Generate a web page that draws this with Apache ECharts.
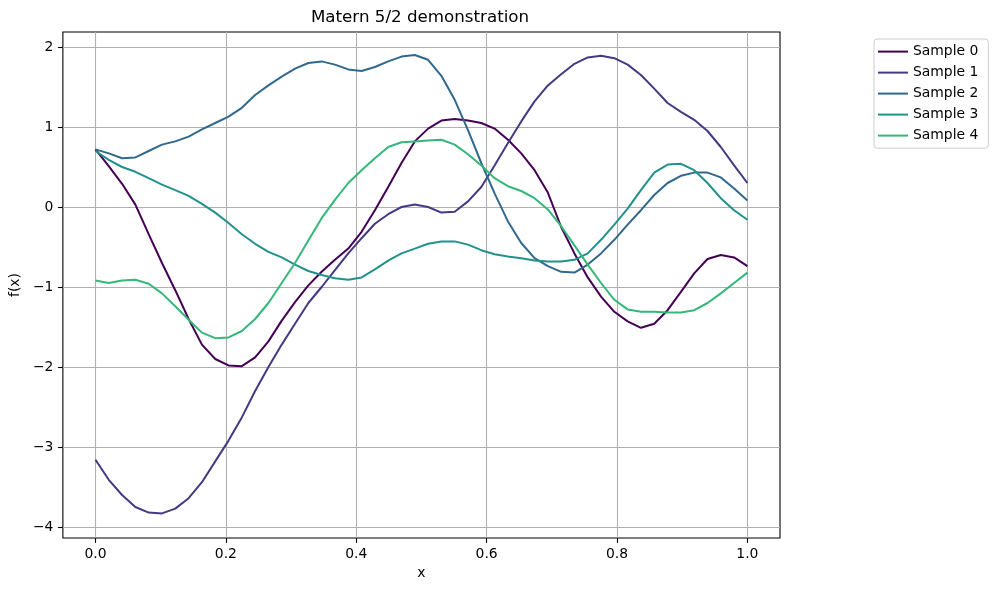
<!DOCTYPE html>
<html>
<head>
<meta charset="utf-8">
<script src="https://cdn.jsdelivr.net/npm/echarts@6/dist/echarts.min.js"></script>
<style>
html,body{margin:0;padding:0;background:#fff;}
#chart{width:999px;height:590px;}
</style>
</head>
<body>
<div id="chart"></div>
<script>
const xs = [0, 0.0204, 0.0408, 0.0612, 0.0816, 0.1020, 0.1224, 0.1429, 0.1633, 0.1837,
  0.2041, 0.2245, 0.2449, 0.2653, 0.2857, 0.3061, 0.3265, 0.3469, 0.3673, 0.3878,
  0.4082, 0.4286, 0.4490, 0.4694, 0.4898, 0.5102, 0.5306, 0.5510, 0.5714, 0.5918,
  0.6122, 0.6327, 0.6531, 0.6735, 0.6939, 0.7143, 0.7347, 0.7551, 0.7755, 0.7959,
  0.8163, 0.8367, 0.8571, 0.8776, 0.8980, 0.9184, 0.9388, 0.9592, 0.9796, 1];

const sample0 = [0.72,0.51,0.29,0.03,-0.34,-0.70,-1.04,-1.40,-1.72,-1.90,
  -1.98,-1.99,-1.88,-1.68,-1.42,-1.19,-0.98,-0.81,-0.66,-0.52,
  -0.31,-0.04,0.25,0.55,0.82,0.98,1.08,1.10,1.08,1.05,
  0.98,0.84,0.67,0.46,0.18,-0.25,-0.58,-0.88,-1.12,-1.31,
  -1.43,-1.51,-1.46,-1.29,-1.06,-0.83,-0.65,-0.60,-0.63,-0.74];
const sample1 = [-3.16,-3.41,-3.60,-3.75,-3.82,-3.83,-3.77,-3.64,-3.44,-3.18,
  -2.92,-2.63,-2.30,-2.00,-1.72,-1.46,-1.20,-1.00,-0.79,-0.58,
  -0.39,-0.21,-0.09,0.00,0.03,0.00,-0.07,-0.06,0.07,0.25,
  0.52,0.80,1.07,1.32,1.52,1.66,1.79,1.87,1.89,1.86,
  1.78,1.65,1.48,1.30,1.19,1.09,0.95,0.75,0.52,0.30];
const sample2 = [0.72,0.67,0.61,0.62,0.70,0.78,0.82,0.88,0.97,1.05,
  1.13,1.24,1.40,1.52,1.63,1.73,1.80,1.82,1.78,1.72,
  1.70,1.75,1.82,1.88,1.90,1.84,1.64,1.34,0.96,0.55,
  0.17,-0.18,-0.45,-0.64,-0.74,-0.81,-0.82,-0.72,-0.58,-0.41,
  -0.22,-0.04,0.15,0.30,0.39,0.43,0.43,0.37,0.23,0.08];
const sample3 = [0.70,0.59,0.50,0.44,0.36,0.28,0.21,0.14,0.04,-0.07,
  -0.20,-0.34,-0.46,-0.56,-0.63,-0.72,-0.80,-0.85,-0.89,-0.91,
  -0.88,-0.78,-0.67,-0.58,-0.52,-0.46,-0.43,-0.43,-0.47,-0.54,
  -0.59,-0.62,-0.64,-0.67,-0.68,-0.68,-0.66,-0.58,-0.41,-0.22,
  -0.02,0.21,0.43,0.53,0.54,0.46,0.30,0.11,-0.04,-0.16];
const sample4 = [-0.92,-0.95,-0.92,-0.91,-0.96,-1.08,-1.24,-1.41,-1.57,-1.64,
  -1.63,-1.55,-1.40,-1.20,-0.95,-0.70,-0.42,-0.14,0.09,0.30,
  0.46,0.61,0.75,0.81,0.82,0.83,0.84,0.78,0.66,0.52,
  0.36,0.26,0.20,0.11,-0.03,-0.24,-0.48,-0.72,-0.95,-1.16,
  -1.28,-1.31,-1.31,-1.32,-1.32,-1.29,-1.20,-1.08,-0.95,-0.82];

const seriesNames = ['Sample 0','Sample 1','Sample 2','Sample 3','Sample 4'];
const seriesValues = [sample0, sample1, sample2, sample3, sample4];
const colors = ['#440154','#443a83','#31688e','#21918c','#35b779'];
const xTicks = [0, 0.2, 0.4, 0.6, 0.8, 1.0];
const yTicks = [-4, -3, -2, -1, 0, 1, 2];

const FONT = 'DejaVu Sans';
const chart = echarts.init(document.getElementById('chart'), null, {renderer: 'canvas'});

const series = seriesNames.map((name, k) => ({
  name: name,
  type: 'line',
  data: xs.map((x, i) => [x, seriesValues[k][i]]),
  showSymbol: false,
  symbol: 'none',
  lineStyle: {width: 2, color: colors[k]},
  itemStyle: {color: colors[k]},
  z: 3 + k
}));

chart.setOption({
  animation: false,
  backgroundColor: '#ffffff',
  title: {
    text: 'Matern 5/2 demonstration',
    left: 420,
    top: 9,
    padding: 0,
    textAlign: 'center',
    textStyle: {fontFamily: FONT, fontSize: 16.7, fontWeight: 'normal', color: '#000'}
  },
  legend: {
    orient: 'vertical',
    left: 874,
    top: 39,
    padding: [5.6, 10, 5.6, 4],
    itemGap: 7,
    itemWidth: 30,
    itemHeight: 2,
    itemTextGap: 11,
    icon: 'rect',
    borderColor: '#cccccc',
    borderWidth: 1,
    borderRadius: 3,
    backgroundColor: '#ffffff',
    textStyle: {fontFamily: FONT, fontSize: 13.9, color: '#000', lineHeight: 14},
    data: seriesNames
  },
  grid: {
    left: 60, right: 219, top: 32, bottom: 52,
    show: true, borderColor: '#000', borderWidth: 1.1, backgroundColor: 'transparent',
    containLabel: false
  },
  xAxis: {
    type: 'value',
    min: -0.05,
    max: 1.05,
    name: 'x',
    nameLocation: 'middle',
    nameGap: 27,
    nameTextStyle: {fontFamily: FONT, fontSize: 13.9, color: '#000'},
    axisLine: {show: false, onZero: false},
    axisTick: {show: true, length: 4.9, inside: false, customValues: xTicks, lineStyle: {color: '#000', width: 1.1}},
    axisLabel: {customValues: xTicks, margin: 9.5, fontFamily: FONT, fontSize: 13.9, color: '#000',
      formatter: v => v.toFixed(1)},
    splitLine: {show: true, lineStyle: {color: '#b0b0b0', width: 1.1}}
  },
  yAxis: {
    type: 'value',
    min: -4.1375,
    max: 2.1875,
    name: 'f(x)',
    nameLocation: 'middle',
    nameGap: 34,
    nameRotate: 90,
    nameTextStyle: {fontFamily: FONT, fontSize: 13.9, color: '#000'},
    axisLine: {show: false, onZero: false},
    axisTick: {show: true, length: 4.9, inside: false, customValues: yTicks, lineStyle: {color: '#000', width: 1.1}},
    axisLabel: {customValues: yTicks, margin: 9.5, fontFamily: FONT, fontSize: 13.9, color: '#000',
      formatter: v => String(Math.round(v)).replace('-', '\u2212')},
    splitLine: {show: true, lineStyle: {color: '#b0b0b0', width: 1.1}}
  },
  series: series
});
</script>
</body>
</html>
